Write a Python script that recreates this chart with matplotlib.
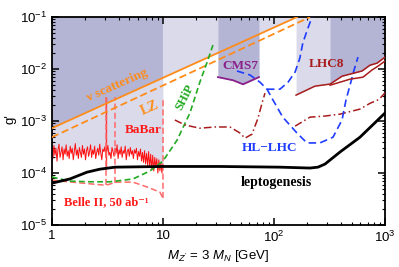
import numpy as np
import matplotlib
matplotlib.use("Agg")
import matplotlib.pyplot as plt
from matplotlib.ticker import LogLocator, NullFormatter

plt.rcParams['font.family'] = ['Liberation Sans', 'DejaVu Sans']
plt.rcParams['mathtext.fontset'] = 'custom'
plt.rcParams['mathtext.rm'] = 'Liberation Sans'
plt.rcParams['mathtext.it'] = 'Liberation Sans:italic'
plt.rcParams['mathtext.bf'] = 'Liberation Sans:bold'

# neutrino scattering (solid) and LZ (dashed) limits
nu_x = [1.0, 161.0]
nu_g = [7.3e-4, 0.1]
lz_x = [1.0, 211.0]
lz_g = [4.9e-4, 0.1]

# leptogenesis
lepto_x = [1.0, 1.45, 2.07, 2.71, 3.7, 10.0, 32.6, 113.0, 211.0, 249.0, 288.0, 393.0, 595.0, 1000.0]
lepto_g = [6.4e-5, 7.7e-5, 1.04e-4, 1.19e-4, 1.30e-4, 1.34e-4, 1.34e-4, 1.30e-4, 1.25e-4, 1.30e-4,
           1.49e-4, 2.54e-4, 4.9e-4, 1.43e-3]

# SHiP
ship_x = [1.0, 1.45, 2.2, 3.33, 5.37, 7.64, 10.0, 13.4, 17.5, 21.5, 25.4, 28.2]
ship_g = [8.4e-5, 7.0e-5, 6.8e-5, 6.8e-5, 7.7e-5, 1.1e-4, 1.7e-4, 4.3e-4, 1.43e-3, 5.6e-3, 1.49e-2, 2.9e-2]

# dark red dash-dot projections
dd1_x = [12.8, 15.8, 21.5, 29.4, 40.1, 49.4, 54.8, 63.4, 71.8, 78.0, 83.0]
dd1_g = [1.05e-3, 8.4e-4, 7.3e-4, 7.7e-4, 7.7e-4, 5.9e-4, 4.7e-4, 5.6e-4, 1.14e-3, 2.2e-3, 3.45e-3]
dd2_x = [155.0, 211.0, 288.0, 393.0, 595.0, 733.0, 880.0, 1000.0]
dd2_g = [8.0e-4, 1.19e-3, 1.25e-3, 1.36e-3, 1.7e-3, 2.2e-3, 2.6e-3, 3.5e-3]

# HL-LHC
hl_x = [46.4, 60.8, 74.8, 86.5, 98.0, 120.0, 161.0, 198.0, 259.0, 340.0, 410.0, 445.0, 484.0, 526.0, 571.0]
hl_g = [9.2e-3, 7.7e-3, 5.6e-3, 4.1e-3, 2.54e-3, 1.19e-3, 5.9e-4, 3.8e-4, 3.8e-4, 4.9e-4, 1.05e-3,
        2.54e-3, 4.9e-3, 9.6e-3, 1.7e-2]
hl2_x = [86.5, 113.0, 134.0, 155.0, 171.0, 182.0, 202.0, 220.0]
hl2_g = [4.1e-3, 4.1e-3, 5.6e-3, 8.8e-3, 1.63e-2, 3.2e-2, 6.1e-2, 0.1]

# CMS7
cms_x = [31.3, 42.7, 52.6, 73.2]
cms_g = [7.0e-3, 6.1e-3, 5.1e-3, 7.0e-3]

# LHC8 (single line, then double line)
lhc8_x = [158.0, 234.0, 320.0, 410.0, 484.0, 621.0, 733.0, 847.0, 1000.0]
lhc8_g = [3.16e-3, 4.7e-3, 5.15e-3, 7.3e-3, 8.0e-3, 9.2e-3, 1.19e-2, 1.30e-2, 1.70e-2]
lhc8b_x = [320.0, 484.0, 634.0, 763.0, 865.0, 1000.0]
lhc8b_g = [4.9e-3, 6.4e-3, 7.0e-3, 9.6e-3, 1.14e-2, 1.43e-2]

# Belle II 50/ab
belle_x = [1.0, 1.9, 2.88, 3.1, 3.85, 5.37, 7.2, 9.4, 10.0]
belle_g = [7.3e-5, 6.4e-5, 5.9e-5, 5.9e-5, 6.7e-5, 6.7e-5, 5.4e-5, 4.3e-5, 3.3e-5]
belle_edge_x = [1.0, 3.1, 3.7, 10.0]
belle_edge_lo = [7.3e-5, 5.9e-5, 6.5e-5, 3.3e-5]
belle_edge_hi = [3.5e-3, 2.9e-3, 2.9e-3, 2.8e-3]

# BaBar (in units of 1e-4)
babar_g = [2.6, 1.9, 3.4, 2.2, 3.0, 1.7, 2.8, 3.6, 2.0, 2.5, 3.2, 1.8, 2.9, 2.3, 3.5, 2.1, 2.7, 1.9, 3.3, 2.4,
           3.0, 1.8, 2.6, 3.7, 2.2, 2.8, 1.9, 3.1, 2.5, 2.0, 3.4, 2.3, 2.9, 1.8, 2.7, 3.2, 2.1, 2.6, 3.5, 2.0,
           2.8, 2.3, 3.3, 1.9, 2.5, 3.0, 2.2, 3.6, 2.4, 1.8, 2.9, 2.6, 3.2, 2.0, 2.7, 3.4, 2.2, 2.5, 1.9, 3.1,
           2.6, 2.1, 3.0, 2.4, 3.5, 1.9, 2.8, 2.3, 3.2, 2.0, 2.7, 2.4, 3.3, 1.8, 2.6, 2.9, 2.1, 3.1, 2.3, 2.7,
           1.9, 2.8, 2.4, 3.0, 1.8, 2.6, 2.1, 2.9, 1.7, 2.5, 1.6, 2.7, 1.5, 2.4, 1.4, 2.6, 1.3, 2.3, 1.2, 2.2,
           1.1, 2.0, 1.3, 1.9, 1.0, 1.8, 1.1, 1.6, 1.0, 1.5]
babar_x = np.geomspace(1.0, 10.0, len(babar_g))
babar_spike_x = [3.1]
babar_spike_hi = [2.9e-3]

LIGHT = '#dadaeb'
DARK = '#b4b4d5'
ORANGE = '#ff8c1a'


def loglin(x, xs, ys):
    return 10 ** np.interp(np.log10(x), np.log10(xs), np.log10(ys))


fig = plt.figure(figsize=(3.99, 2.67), dpi=100)
ax = fig.add_axes([0.130, 0.157, 0.835, 0.779])
ax.set_xscale('log')
ax.set_yscale('log')
ax.set_xlim(1, 1000)
ax.set_ylim(1e-5, 0.1)

# shaded excluded regions
ax.fill_between(babar_x, np.array(babar_g) * 1e-4, 0.1, color=LIGHT, lw=0, zorder=0)
ax.fill([nu_x[0], nu_x[1], nu_x[0]], [nu_g[0], nu_g[1], 0.1], color=LIGHT, lw=0, zorder=0)
ax.fill_between(cms_x, cms_g, 0.1, color=LIGHT, lw=0, zorder=0)
ax.fill_between(lhc8_x, lhc8_g, 0.1, color=LIGHT, lw=0, zorder=0)
ax.fill([1, 10, 10, 1], [nu_g[0], loglin(10, nu_x, nu_g), 0.1, 0.1], color=DARK, lw=0, zorder=0.5)
ax.fill_between(cms_x, cms_g, 0.1, color=DARK, lw=0, zorder=0.5)
ax.fill_between(lhc8_x[2:], lhc8_g[2:], 0.1, color=DARK, lw=0, zorder=0.5)

# curves
ax.plot(babar_x, np.array(babar_g) * 1e-4, color='#ff1010', lw=0.7, zorder=2)
ax.vlines(babar_spike_x, 1.2e-4, babar_spike_hi, color='#ff3030', lw=1.0, zorder=2)
ax.plot(belle_x, belle_g, color='#ff6a6a', lw=1.1, ls=(0, (4, 2)), zorder=2)
ax.vlines(belle_edge_x, belle_edge_lo, belle_edge_hi, color='#ff6a6a', lw=1.1,
          linestyles=[(0, (4, 2))], zorder=2)
ax.plot(nu_x, nu_g, color=ORANGE, lw=1.3, zorder=3)
ax.plot(lz_x, lz_g, color=ORANGE, lw=1.3, ls=(0, (4, 2)), zorder=3)
ax.plot(ship_x, ship_g, color='#22aa22', lw=1.2, ls=(0, (3.5, 2)), zorder=3)
ax.plot(dd1_x, dd1_g, color='#a81c1c', lw=1.1, ls=(0, (5, 2, 1, 2)), zorder=3)
ax.plot(dd2_x, dd2_g, color='#a81c1c', lw=1.1, ls=(0, (5, 2, 1, 2)), zorder=3)
ax.plot(hl_x, hl_g, color='#1f3cff', lw=1.2, ls=(0, (4.5, 2.5)), zorder=3)
ax.plot(hl2_x, hl2_g, color='#1f3cff', lw=1.2, ls=(0, (4.5, 2.5)), zorder=3)
ax.plot(cms_x, cms_g, color='#8a1f8a', lw=1.3, zorder=3)
ax.plot(lhc8_x, lhc8_g, color='#a81c1c', lw=1.1, zorder=3)
ax.plot(lhc8b_x, lhc8b_g, color='#a81c1c', lw=1.1, zorder=3)
ax.plot(lepto_x, lepto_g, color='black', lw=2.0, zorder=4)

# labels
serif = ['Liberation Serif', 'DejaVu Serif']
tk = dict(family=serif, fontweight='bold', ha='center', va='center', zorder=5)
ax.text(3.9, 4.9e-3, 'ν scattering', color=ORANGE, fontsize=9.5, rotation=24, **tk)
ax.text(7.6, 1.75e-3, 'LZ', color=ORANGE, fontsize=10, rotation=24, **tk)
ax.text(6.7, 6.7e-4, 'BaBar', color='#ff1a1a', fontsize=9.5, **tk)
ax.text(15.8, 2.9e-3, 'SHiP', color='#22aa22', fontsize=9, rotation=63, **tk)
ax.text(49.4, 1.14e-2, 'CMS7', color='#8a1f8a', fontsize=9.5, **tk)
ax.text(300, 1.25e-2, 'LHC8', color='#a81c1c', fontsize=9.5, **tk)
ax.text(92, 3.0e-4, 'HL\u2212LHC', color='#1f3cff', fontsize=9.5, **tk)
ax.text(106, 6.7e-5, 'leptogenesis', color='black', fontsize=10, **tk)
ax.text(3.07, 2.8e-5, 'Belle II, 50 ab\u207b\u00b9', color='#ff1a1a', fontsize=9, **tk)

# axes styling
for s in ax.spines.values():
    s.set_linewidth(1.3)
ax.tick_params(which='both', direction='in', top=True, right=True, labelsize=9.5)
ax.tick_params(which='major', length=5, width=1.1)
ax.tick_params(which='minor', length=2.5, width=0.8)
ax.set_xticks([1, 10, 100, 1000], ['1', '10', '$10^2$', '$10^3$'])
ax.xaxis.set_minor_locator(LogLocator(base=10, subs=np.arange(2, 10)))
ax.xaxis.set_minor_formatter(NullFormatter())
ax.yaxis.set_minor_locator(LogLocator(base=10, subs=np.arange(2, 10), numticks=20))
ax.yaxis.set_minor_formatter(NullFormatter())

ax.set_xlabel("$M_{Z'}$ = 3 $M_N$ [GeV]", fontsize=9.5)
ax.xaxis.set_label_coords(0.5, -0.11)
ax.set_ylabel("g'", fontsize=9.5)
ax.yaxis.set_label_coords(-0.105, 0.51)

fig.savefig('out.png', dpi=100)
